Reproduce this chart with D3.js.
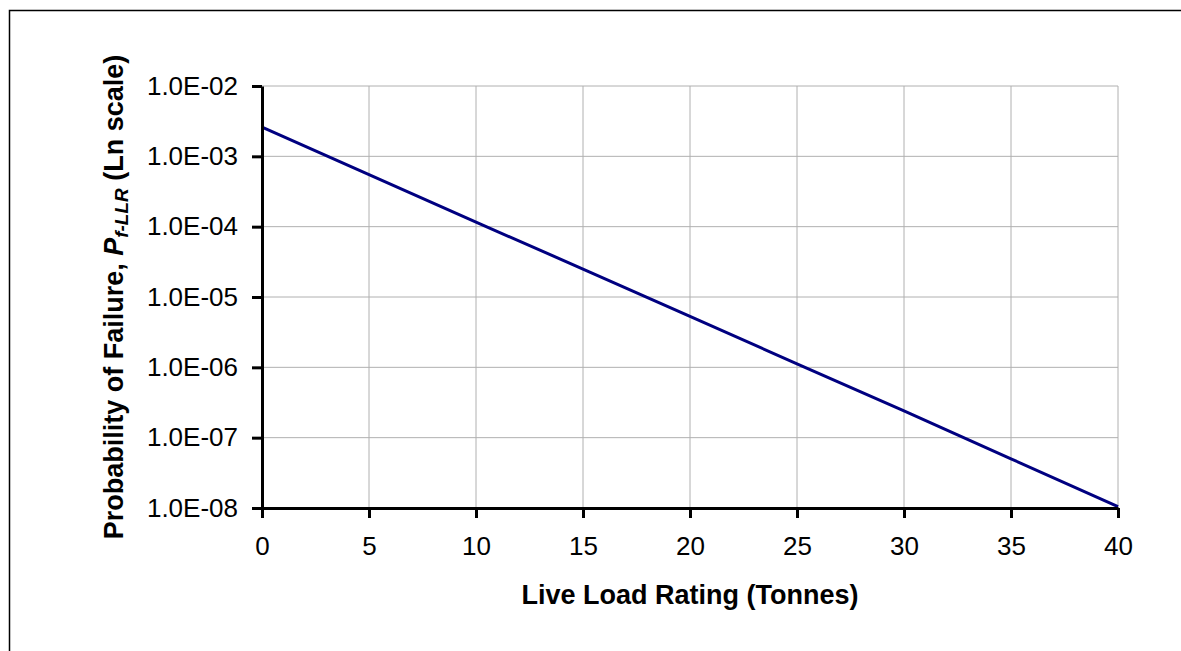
<!DOCTYPE html>
<html>
<head>
<meta charset="utf-8">
<script src="https://cdn.jsdelivr.net/npm/d3@7"></script>
<style>
  body { margin: 0; background: #fff; }
  svg { display: block; font-family: Arial, "Liberation Sans", sans-serif; }
</style>
</head>
<body>
<svg id="chart" width="1181" height="651"></svg>
<script>
const xValues = [0, 5, 10, 15, 20, 25, 30, 35, 40];
const pfValues = [2.6e-3, 5.5e-4, 1.16e-4, 2.5e-5, 5.3e-6, 1.12e-6, 2.4e-7, 5.0e-8, 1.05e-8];
const xTicks = [0, 5, 10, 15, 20, 25, 30, 35, 40];
const yTicks = [1e-8, 1e-7, 1e-6, 1e-5, 1e-4, 1e-3, 1e-2];
const yTickLabels = ["1.0E-08", "1.0E-07", "1.0E-06", "1.0E-05", "1.0E-04", "1.0E-03", "1.0E-02"];

const svg = d3.select("#chart");
const W = 1181, H = 651;
const m = { left: 262, right: 63, top: 86, bottom: 143 };
const pw = W - m.left - m.right, ph = H - m.top - m.bottom;
const FONT = "Arial, 'Liberation Sans', sans-serif";

// outer border
svg.append("rect").attr("x", 9.5).attr("y", 10.5).attr("width", W + 20).attr("height", H + 20)
  .attr("fill", "none").attr("stroke", "#000").attr("stroke-width", 1.5);

const x = d3.scaleLinear().domain([0, 40]).range([m.left, m.left + pw]);
const y = d3.scaleLog().domain([1e-8, 1e-2]).range([m.top + ph, m.top]);

const g = svg.append("g");

// gridlines
g.selectAll(".vg").data(xTicks.slice(1)).join("line")
  .attr("x1", d => x(d)).attr("x2", d => x(d))
  .attr("y1", m.top).attr("y2", m.top + ph)
  .attr("stroke", "#b0b0b0").attr("stroke-width", 1);
g.selectAll(".hg").data(yTicks.slice(1)).join("line")
  .attr("x1", m.left).attr("x2", m.left + pw)
  .attr("y1", d => y(d)).attr("y2", d => y(d))
  .attr("stroke", "#b0b0b0").attr("stroke-width", 1);

// line
const line = d3.line().x((d, i) => x(xValues[i])).y(d => y(d));
g.append("path").datum(pfValues).attr("d", line)
  .attr("fill", "none").attr("stroke", "#000080").attr("stroke-width", 3);

// axes
const xAxis = d3.axisBottom(x).tickValues(xTicks).tickSize(10).tickPadding(19).tickSizeOuter(0);
const gx = svg.append("g").attr("transform", `translate(0,${m.top + ph})`).call(xAxis);
gx.select(".domain").attr("stroke-width", 3);
gx.selectAll(".tick line").attr("stroke-width", 3);
gx.selectAll("text").attr("font-size", 26).attr("fill", "#000").attr("font-family", FONT);

const yAxis = d3.axisLeft(y).tickValues(yTicks).tickFormat((d, i) => yTickLabels[i]).tickSize(10).tickPadding(14).tickSizeOuter(0);
const gy = svg.append("g").attr("transform", `translate(${m.left},0)`).call(yAxis);
gy.select(".domain").attr("stroke-width", 3);
gy.selectAll(".tick line").attr("stroke-width", 3);
gy.selectAll("text").attr("font-size", 26).attr("fill", "#000").attr("font-family", FONT);

// x title
svg.append("text").attr("x", m.left + pw / 2).attr("y", 604)
  .attr("text-anchor", "middle").attr("font-size", 27).attr("font-weight", "bold")
  .attr("font-family", FONT)
  .text("Live Load Rating (Tonnes)");

// y title
const yt = svg.append("text").attr("transform", `translate(123,${m.top + ph / 2}) rotate(-90)`)
  .attr("text-anchor", "middle").attr("font-size", 27).attr("font-weight", "bold")
  .attr("font-family", FONT);
yt.append("tspan").text("Probability of Failure, ");
yt.append("tspan").attr("font-style", "italic").text("P");
yt.append("tspan").attr("font-style", "italic").attr("font-size", 19).attr("dy", 5).text("f-LLR");
yt.append("tspan").attr("dy", -5).text(" (Ln scale)");
</script>
</body>
</html>
